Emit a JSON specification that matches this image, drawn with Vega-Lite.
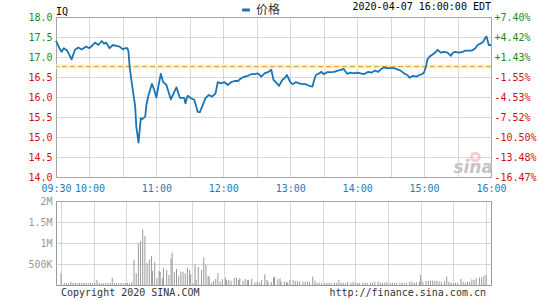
{
  "$schema": "https://vega.github.io/schema/vega-lite/v6.json",
  "background": "white",
  "padding": {"left": 27, "top": 1, "right": 4, "bottom": 0},
  "bounds": "flush",
  "spacing": 24,
  "config": {
    "font": "DejaVu Sans Mono",
    "view": {"stroke": "#999999"},
    "axis": {"labelFont": "DejaVu Sans Mono", "labelFontSize": 10, "ticks": false, "domain": false, "gridColor": "#b0b0b0", "gridDash": [1, 1], "gridWidth": 1, "labelPadding": 4, "title": null, "labelOverlap": false, "labelFlush": false},
    "legend": {"labelFont": "Noto Sans CJK SC"}
  },
  "vconcat": [
    {
      "width": 435,
      "height": 160,
      "resolve": {"axis": {"y": "independent"}},
      "layer": [
        {
          "data": {"values": [{"prev": 16.76}]},
          "mark": {"type": "rule", "color": "#fbefc6", "strokeWidth": 4},
          "encoding": {"y": {"field": "prev", "type": "quantitative", "scale": {"domain": [14, 18], "nice": false, "zero": false}, "axis": null}}
        },
        {
          "data": {"values": [{"prev": 16.76}]},
          "mark": {"type": "rule", "color": "#e39a35", "strokeWidth": 1, "strokeDash": [5, 3]},
          "encoding": {"y": {"field": "prev", "type": "quantitative", "scale": {"domain": [14, 18], "nice": false, "zero": false},
            "axis": {"orient": "right", "values": [14, 14.5, 15, 15.5, 16, 16.5, 17, 17.5, 18], "grid": false, "labelPadding": 3,
              "labelExpr": "(datum.value >= 16.76 ? '+' : '-') + format(abs(datum.value / 16.76 - 1) * 100, '.2f') + '%'",
              "labelColor": {"condition": {"test": "datum.value > 16.76", "value": "#1a8a1a"}, "value": "#cc1111"}}}}
        },
        {
          "data": {"values": [
            {"m": 0, "p": 17.41}, {"m": 3, "p": 17.22}, {"m": 5, "p": 17.13}, {"m": 7, "p": 17.22}, {"m": 10, "p": 17.16},
            {"m": 14, "p": 16.94}, {"m": 17, "p": 17.18}, {"m": 20, "p": 17.24}, {"m": 23, "p": 17.19}, {"m": 27, "p": 17.26},
            {"m": 30, "p": 17.22}, {"m": 33, "p": 17.30}, {"m": 35, "p": 17.36}, {"m": 38, "p": 17.30}, {"m": 41, "p": 17.40},
            {"m": 43, "p": 17.33}, {"m": 45, "p": 17.36}, {"m": 48, "p": 17.22}, {"m": 51, "p": 17.30}, {"m": 54, "p": 17.28},
            {"m": 57, "p": 17.26}, {"m": 60, "p": 17.19}, {"m": 62, "p": 17.22}, {"m": 64, "p": 17.22}, {"m": 65, "p": 17.13},
            {"m": 66, "p": 16.76}, {"m": 68, "p": 16.34}, {"m": 71, "p": 15.76}, {"m": 72, "p": 15.26}, {"m": 74, "p": 14.86},
            {"m": 76, "p": 15.47}, {"m": 77, "p": 15.44}, {"m": 80, "p": 15.51}, {"m": 81, "p": 15.80}, {"m": 83, "p": 16.05},
            {"m": 86, "p": 16.33}, {"m": 88, "p": 16.18}, {"m": 90, "p": 15.99}, {"m": 92, "p": 16.30}, {"m": 94, "p": 16.58},
            {"m": 96, "p": 16.38}, {"m": 99, "p": 16.30}, {"m": 103, "p": 15.94}, {"m": 106, "p": 16.13}, {"m": 108, "p": 16.24},
            {"m": 111, "p": 15.98}, {"m": 115, "p": 15.98}, {"m": 116, "p": 15.84}, {"m": 118, "p": 16.03}, {"m": 121, "p": 15.97},
            {"m": 124, "p": 15.93}, {"m": 127, "p": 15.63}, {"m": 129, "p": 15.62}, {"m": 131, "p": 15.76}, {"m": 134, "p": 15.97},
            {"m": 137, "p": 16.05}, {"m": 140, "p": 16.01}, {"m": 143, "p": 16.09}, {"m": 145, "p": 16.37}, {"m": 148, "p": 16.34},
            {"m": 151, "p": 16.37}, {"m": 154, "p": 16.30}, {"m": 157, "p": 16.37}, {"m": 160, "p": 16.40}, {"m": 163, "p": 16.40},
            {"m": 166, "p": 16.47}, {"m": 169, "p": 16.51}, {"m": 172, "p": 16.53}, {"m": 175, "p": 16.57}, {"m": 178, "p": 16.57},
            {"m": 181, "p": 16.59}, {"m": 184, "p": 16.51}, {"m": 187, "p": 16.59}, {"m": 190, "p": 16.62}, {"m": 193, "p": 16.68},
            {"m": 195, "p": 16.43}, {"m": 197, "p": 16.37}, {"m": 200, "p": 16.28}, {"m": 203, "p": 16.43}, {"m": 205, "p": 16.47},
            {"m": 207, "p": 16.55}, {"m": 210, "p": 16.37}, {"m": 212, "p": 16.32}, {"m": 215, "p": 16.37}, {"m": 218, "p": 16.34},
            {"m": 221, "p": 16.32}, {"m": 224, "p": 16.32}, {"m": 227, "p": 16.28}, {"m": 230, "p": 16.26}, {"m": 231, "p": 16.38},
            {"m": 233, "p": 16.55}, {"m": 236, "p": 16.59}, {"m": 238, "p": 16.63}, {"m": 240, "p": 16.57}, {"m": 243, "p": 16.62},
            {"m": 246, "p": 16.62}, {"m": 249, "p": 16.63}, {"m": 252, "p": 16.65}, {"m": 255, "p": 16.68}, {"m": 258, "p": 16.70},
            {"m": 261, "p": 16.58}, {"m": 264, "p": 16.61}, {"m": 267, "p": 16.59}, {"m": 270, "p": 16.61}, {"m": 273, "p": 16.59},
            {"m": 276, "p": 16.57}, {"m": 280, "p": 16.63}, {"m": 283, "p": 16.61}, {"m": 286, "p": 16.66}, {"m": 289, "p": 16.63},
            {"m": 291, "p": 16.69}, {"m": 294, "p": 16.74}, {"m": 297, "p": 16.72}, {"m": 300, "p": 16.72}, {"m": 303, "p": 16.72},
            {"m": 306, "p": 16.69}, {"m": 309, "p": 16.66}, {"m": 312, "p": 16.59}, {"m": 315, "p": 16.55}, {"m": 317, "p": 16.48},
            {"m": 320, "p": 16.53}, {"m": 323, "p": 16.51}, {"m": 326, "p": 16.55}, {"m": 328, "p": 16.57}, {"m": 330, "p": 16.61},
            {"m": 332, "p": 16.80}, {"m": 333, "p": 16.94}, {"m": 335, "p": 17.01}, {"m": 337, "p": 17.05}, {"m": 340, "p": 17.11},
            {"m": 342, "p": 17.18}, {"m": 345, "p": 17.11}, {"m": 348, "p": 17.13}, {"m": 351, "p": 17.11}, {"m": 354, "p": 17.03},
            {"m": 356, "p": 17.11}, {"m": 358, "p": 17.13}, {"m": 361, "p": 17.11}, {"m": 364, "p": 17.12}, {"m": 367, "p": 17.16},
            {"m": 370, "p": 17.16}, {"m": 373, "p": 17.16}, {"m": 376, "p": 17.22}, {"m": 378, "p": 17.30}, {"m": 381, "p": 17.34},
            {"m": 383, "p": 17.38}, {"m": 385, "p": 17.49}, {"m": 386, "p": 17.51}, {"m": 388, "p": 17.30}, {"m": 390, "p": 17.30}
          ]},
          "mark": {"type": "line", "strokeWidth": 1.8, "strokeJoin": "round"},
          "encoding": {
            "x": {"field": "m", "type": "quantitative", "scale": {"domain": [0, 390], "nice": false, "zero": false},
              "axis": {"grid": true, "labelPadding": 6, "labelColor": "#1f7ab8",
                "values": [0, 30, 60, 90, 120, 150, 180, 210, 240, 270, 300, 330, 360, 390],
                "labelExpr": "datum.value == 0 ? '09:30' : (datum.value % 60 == 30 ? format(floor(9.5 + datum.value / 60), '02d') + ':00' : '')"}},
            "y": {"field": "p", "type": "quantitative", "scale": {"domain": [14, 18], "nice": false, "zero": false},
              "axis": {"orient": "left", "grid": true, "values": [14, 14.5, 15, 15.5, 16, 16.5, 17, 17.5, 18], "format": ".1f",
                "labelColor": {"condition": {"test": "datum.value > 16.76", "value": "#1a8a1a"}, "value": "#cc1111"}}},
            "color": {"datum": "价格", "scale": {"range": ["#1b75b5"]},
              "legend": {"title": null, "orient": "none", "legendX": 184, "legendY": -13, "symbolType": "stroke", "symbolStrokeWidth": 3, "symbolSize": 60, "labelFontSize": 12, "labelColor": "#333333"}}
          }
        },
        {
          "encoding": {
            "x": {"field": "m", "type": "quantitative", "scale": {"domain": [0, 390], "nice": false, "zero": false},
              "axis": {"grid": true, "labelPadding": 6, "labelColor": "#1f7ab8",
                "values": [0, 30, 60, 90, 120, 150, 180, 210, 240, 270, 300, 330, 360, 390],
                "labelExpr": "datum.value == 0 ? '09:30' : (datum.value % 60 == 30 ? format(floor(9.5 + datum.value / 60), '02d') + ':00' : '')"}},
            "y": {"field": "p", "type": "quantitative", "scale": {"domain": [14, 18], "nice": false, "zero": false}, "axis": null}
          },
          "layer": [
            {
              "data": {"values": [{"label": "IQ", "m": 0, "p": 18}]},
              "mark": {"type": "text", "align": "left", "baseline": "alphabetic", "dy": -2, "fontSize": 10, "color": "#000000"},
              "encoding": {"text": {"field": "label"}}
            },
            {
              "data": {"values": [{"label": "2020-04-07 16:00:00 EDT", "m": 390, "p": 18}]},
              "mark": {"type": "text", "align": "right", "baseline": "alphabetic", "dy": -7, "fontSize": 10, "color": "#000000"},
              "encoding": {"text": {"field": "label"}}
            },
            {
              "data": {"values": [{"label": "sina", "m": 374, "p": 14.22}]},
              "mark": {"type": "text", "align": "center", "baseline": "middle", "fontSize": 17, "fontStyle": "italic", "fontWeight": "bold", "font": "DejaVu Sans", "color": "#c4c4c4"},
              "encoding": {"text": {"field": "label"}}
            },
            {
              "data": {"values": [{"m": 376, "p": 14.5}]},
              "mark": {"type": "point", "shape": "circle", "size": 60, "filled": false, "strokeWidth": 3, "color": "#f2b8b8"}
            }
          ]
        }
      ]
    },
    {
      "width": 435,
      "height": 84,
      "encoding": {
        "x": {"field": "m", "type": "quantitative", "scale": {"domain": [0, 390], "nice": false, "zero": false},
          "axis": {"grid": true, "labels": false, "values": [0, 30, 60, 90, 120, 150, 180, 210, 240, 270, 300, 330, 360, 390]}},
        "y": {"field": "v", "type": "quantitative", "scale": {"domain": [0, 2000000], "nice": false},
          "axis": {"grid": true, "values": [500000, 1000000, 1500000, 2000000], "labelColor": "#999999",
            "labelExpr": "replace(format(datum.value, '~s'), 'k', 'K')"}}
      },
      "layer": [
        {
          "data": {"values": [
            {"m": 0, "v": 280000}, {"m": 3, "v": 45000}, {"m": 5, "v": 50000}, {"m": 7, "v": 40000}, {"m": 9, "v": 80000},
            {"m": 11, "v": 45000}, {"m": 13, "v": 50000}, {"m": 15, "v": 40000}, {"m": 17, "v": 50000}, {"m": 19, "v": 45000},
            {"m": 21, "v": 55000}, {"m": 23, "v": 50000}, {"m": 25, "v": 45000}, {"m": 27, "v": 55000}, {"m": 29, "v": 50000},
            {"m": 31, "v": 60000}, {"m": 33, "v": 120000}, {"m": 35, "v": 50000}, {"m": 37, "v": 40000}, {"m": 39, "v": 35000},
            {"m": 41, "v": 40000}, {"m": 43, "v": 45000}, {"m": 45, "v": 50000}, {"m": 47, "v": 175000}, {"m": 49, "v": 45000},
            {"m": 51, "v": 40000}, {"m": 53, "v": 40000}, {"m": 55, "v": 45000}, {"m": 57, "v": 40000}, {"m": 59, "v": 50000},
            {"m": 61, "v": 45000}, {"m": 63, "v": 40000}, {"m": 65, "v": 65000}, {"m": 67, "v": 600000}, {"m": 69, "v": 280000},
            {"m": 71, "v": 990000}, {"m": 73, "v": 1050000}, {"m": 75, "v": 1330000}, {"m": 77, "v": 1170000}, {"m": 79, "v": 516000},
            {"m": 81, "v": 600000}, {"m": 83, "v": 690000}, {"m": 84, "v": 333000}, {"m": 86, "v": 540000}, {"m": 88, "v": 160000},
            {"m": 90, "v": 333000}, {"m": 91, "v": 318000}, {"m": 93, "v": 160000}, {"m": 94, "v": 413000}, {"m": 97, "v": 357000},
            {"m": 99, "v": 238000}, {"m": 101, "v": 635000}, {"m": 102, "v": 770000}, {"m": 104, "v": 318000}, {"m": 106, "v": 380000},
            {"m": 108, "v": 200000}, {"m": 110, "v": 318000}, {"m": 112, "v": 318000}, {"m": 114, "v": 278000}, {"m": 116, "v": 413000},
            {"m": 118, "v": 357000}, {"m": 119, "v": 254000}, {"m": 121, "v": 40000}, {"m": 123, "v": 490000}, {"m": 124, "v": 120000},
            {"m": 126, "v": 437000}, {"m": 129, "v": 357000}, {"m": 131, "v": 660000}, {"m": 133, "v": 476000}, {"m": 135, "v": 215000},
            {"m": 136, "v": 200000}, {"m": 138, "v": 55000}, {"m": 140, "v": 95000}, {"m": 142, "v": 143000}, {"m": 144, "v": 278000},
            {"m": 146, "v": 80000}, {"m": 148, "v": 135000}, {"m": 151, "v": 175000}, {"m": 152, "v": 120000}, {"m": 154, "v": 120000},
            {"m": 156, "v": 103000}, {"m": 159, "v": 175000}, {"m": 161, "v": 175000}, {"m": 163, "v": 120000}, {"m": 164, "v": 160000},
            {"m": 167, "v": 95000}, {"m": 169, "v": 143000}, {"m": 171, "v": 120000}, {"m": 172, "v": 120000}, {"m": 175, "v": 143000},
            {"m": 178, "v": 65000}, {"m": 180, "v": 80000}, {"m": 182, "v": 65000}, {"m": 184, "v": 120000}, {"m": 187, "v": 254000},
            {"m": 189, "v": 120000}, {"m": 190, "v": 80000}, {"m": 193, "v": 70000}, {"m": 195, "v": 170000}, {"m": 196, "v": 200000},
            {"m": 199, "v": 135000}, {"m": 201, "v": 160000}, {"m": 202, "v": 80000}, {"m": 205, "v": 80000}, {"m": 207, "v": 80000},
            {"m": 208, "v": 55000}, {"m": 210, "v": 120000}, {"m": 213, "v": 120000}, {"m": 215, "v": 95000}, {"m": 217, "v": 95000},
            {"m": 219, "v": 80000}, {"m": 222, "v": 80000}, {"m": 224, "v": 80000}, {"m": 226, "v": 80000}, {"m": 228, "v": 80000},
            {"m": 231, "v": 200000}, {"m": 233, "v": 103000}, {"m": 235, "v": 55000}, {"m": 237, "v": 55000}, {"m": 239, "v": 40000},
            {"m": 242, "v": 40000}, {"m": 244, "v": 55000}, {"m": 246, "v": 55000}, {"m": 248, "v": 40000}, {"m": 251, "v": 55000},
            {"m": 253, "v": 55000}, {"m": 255, "v": 120000}, {"m": 257, "v": 55000}, {"m": 259, "v": 55000}, {"m": 261, "v": 40000},
            {"m": 263, "v": 80000}, {"m": 266, "v": 55000}, {"m": 268, "v": 80000}, {"m": 270, "v": 55000}, {"m": 272, "v": 55000},
            {"m": 274, "v": 55000}, {"m": 277, "v": 55000}, {"m": 279, "v": 55000}, {"m": 281, "v": 55000}, {"m": 284, "v": 55000},
            {"m": 286, "v": 55000}, {"m": 288, "v": 80000}, {"m": 291, "v": 80000}, {"m": 293, "v": 55000}, {"m": 295, "v": 55000},
            {"m": 297, "v": 55000}, {"m": 299, "v": 80000}, {"m": 302, "v": 55000}, {"m": 304, "v": 55000}, {"m": 306, "v": 40000},
            {"m": 308, "v": 55000}, {"m": 311, "v": 55000}, {"m": 313, "v": 55000}, {"m": 315, "v": 40000}, {"m": 317, "v": 55000},
            {"m": 320, "v": 80000}, {"m": 322, "v": 80000}, {"m": 324, "v": 55000}, {"m": 326, "v": 80000}, {"m": 329, "v": 80000},
            {"m": 330, "v": 240000}, {"m": 332, "v": 80000}, {"m": 335, "v": 95000}, {"m": 337, "v": 103000}, {"m": 339, "v": 103000},
            {"m": 341, "v": 103000}, {"m": 343, "v": 95000}, {"m": 345, "v": 103000}, {"m": 347, "v": 80000}, {"m": 349, "v": 80000},
            {"m": 352, "v": 95000}, {"m": 354, "v": 200000}, {"m": 356, "v": 80000}, {"m": 358, "v": 55000}, {"m": 360, "v": 55000},
            {"m": 362, "v": 55000}, {"m": 364, "v": 55000}, {"m": 367, "v": 143000}, {"m": 369, "v": 80000}, {"m": 371, "v": 55000},
            {"m": 373, "v": 80000}, {"m": 375, "v": 80000}, {"m": 377, "v": 135000}, {"m": 379, "v": 120000}, {"m": 381, "v": 160000},
            {"m": 384, "v": 180000}, {"m": 386, "v": 180000}, {"m": 388, "v": 220000}, {"m": 390, "v": 240000}
          ]},
          "mark": {"type": "bar", "width": 1, "color": "#999999"}
        },
        {
          "data": {"values": [{"label": "Copyright 2020 SINA.COM", "m": 0, "v": 0}]},
          "mark": {"type": "text", "align": "left", "baseline": "top", "dy": 3, "fontSize": 10, "color": "#333333"},
          "encoding": {"text": {"field": "label"}}
        },
        {
          "data": {"values": [{"label": "http://finance.sina.com.cn", "m": 390, "v": 0}]},
          "mark": {"type": "text", "align": "right", "baseline": "top", "dy": 3, "fontSize": 10, "color": "#333333"},
          "encoding": {"text": {"field": "label"}}
        }
      ]
    }
  ]
}
